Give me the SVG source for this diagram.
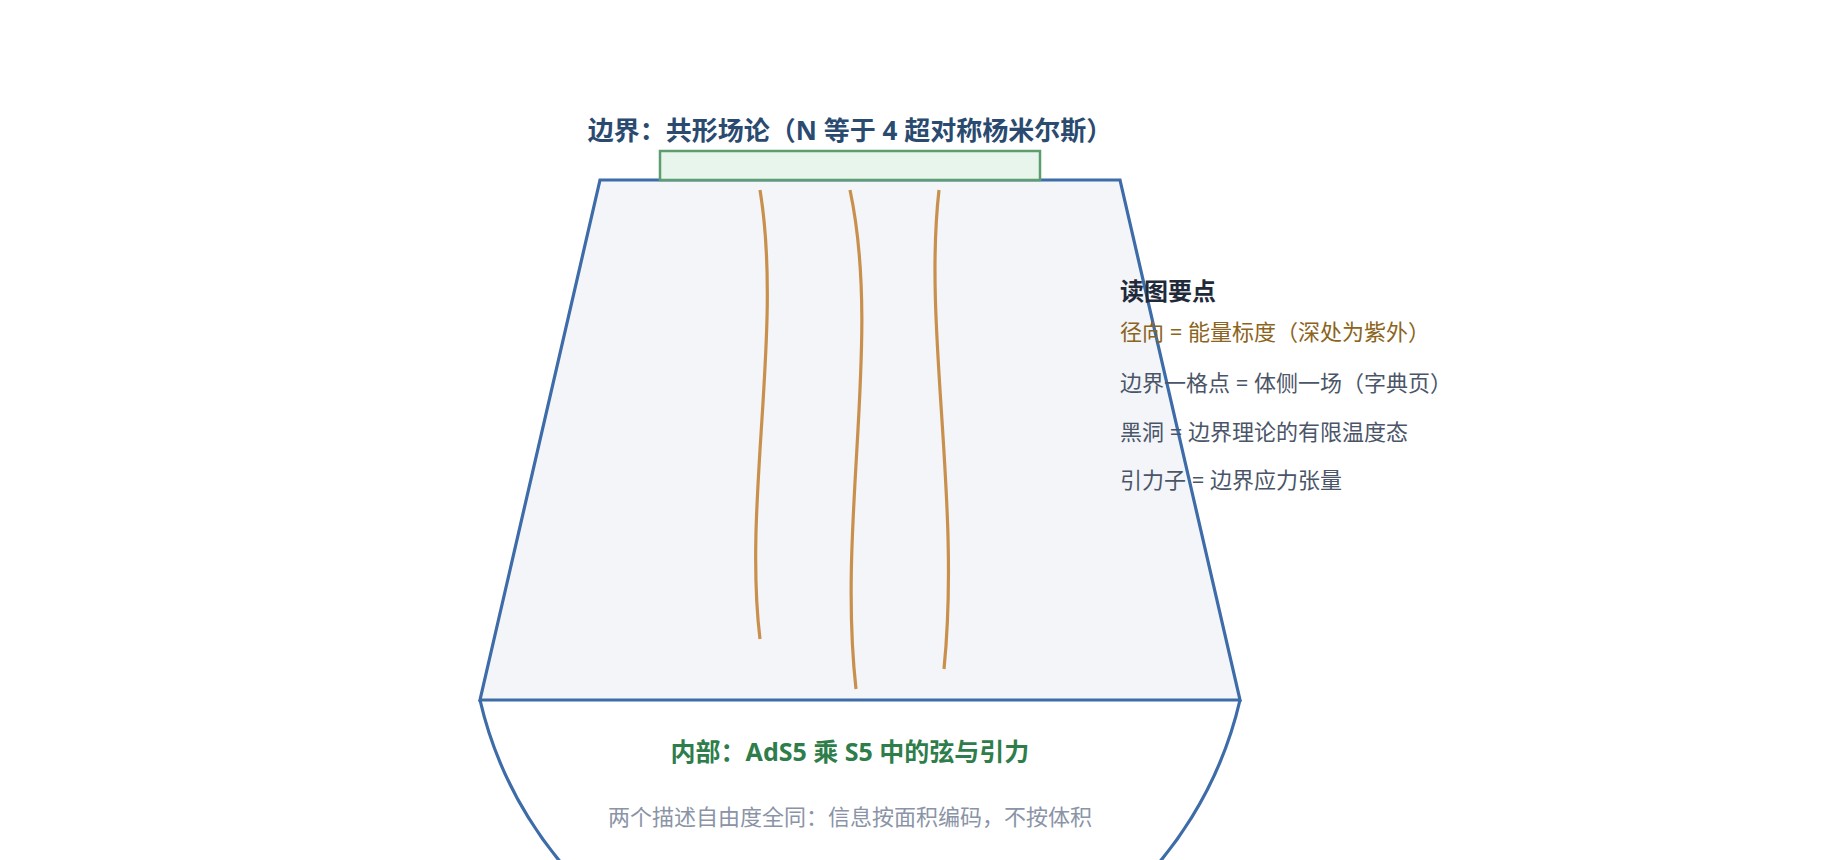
<svg xmlns="http://www.w3.org/2000/svg" width="1840" height="860" viewBox="0 0 1840 860">
  <style>
    .cjk { font-family: "Noto Sans", "Noto Sans CJK SC", sans-serif; }
    .title { font-size: 26px; font-weight: 700; fill: #2a4a70; }
    .inner { font-size: 25px; font-weight: 700; fill: #2e7d4b; }
    .sub { font-size: 22px; fill: #8a94a6; }
    .lgh { font-size: 24px; font-weight: 700; fill: #1f2a3a; }
    .lgb { font-size: 22px; fill: #8b6420; }
    .lg { font-size: 22px; fill: #4a5568; }
    .string { fill: none; stroke: #c8904c; stroke-width: 3.2; stroke-linecap: butt; }
    .edge { stroke: #3d6ca8; stroke-width: 3.2; }
  </style>
  <rect width="1840" height="860" fill="#ffffff"/>

  <g id="bulk">
    <path class="edge" d="M480,700 A390,390 0 0 0 1240,700" fill="none"/>
    <polygon class="edge" points="600,180 1120,180 1240,700 480,700" fill="#f3f5f9" stroke-linejoin="miter"/>
  </g>

  <g id="boundary">
    <rect x="660" y="151" width="380" height="29" fill="#e8f5ec" stroke="#5d9e6e" stroke-width="2.5"/>
    <text class="cjk title" x="850" y="140" text-anchor="middle">边界：共形场论（N 等于 4 超对称杨米尔斯）</text>
  </g>

  <g id="strings">
    <path class="string" d="M760,190 C783,330 743,500 760,639"/>
    <path class="string" d="M850,190 C882,340 837,520 856,689"/>
    <path class="string" d="M939,190 C923,330 961,500 944,669"/>
  </g>

  <g id="interior">
    <text class="cjk inner" x="850" y="761" text-anchor="middle">内部：AdS5 乘 S5 中的弦与引力</text>
    <text class="cjk sub" x="850" y="825" text-anchor="middle">两个描述自由度全同：信息按面积编码，不按体积</text>
  </g>

  <g id="legend">
    <text class="cjk lgh" x="1120" y="300">读图要点</text>
    <text class="cjk lgb" x="1120" y="340">径向 = 能量标度（深处为紫外）</text>
    <text class="cjk lg" x="1120" y="391">边界一格点 = 体侧一场（字典页）</text>
    <text class="cjk lg" x="1120" y="440">黑洞 = 边界理论的有限温度态</text>
    <text class="cjk lg" x="1120" y="488">引力子 = 边界应力张量</text>
  </g>
</svg>
